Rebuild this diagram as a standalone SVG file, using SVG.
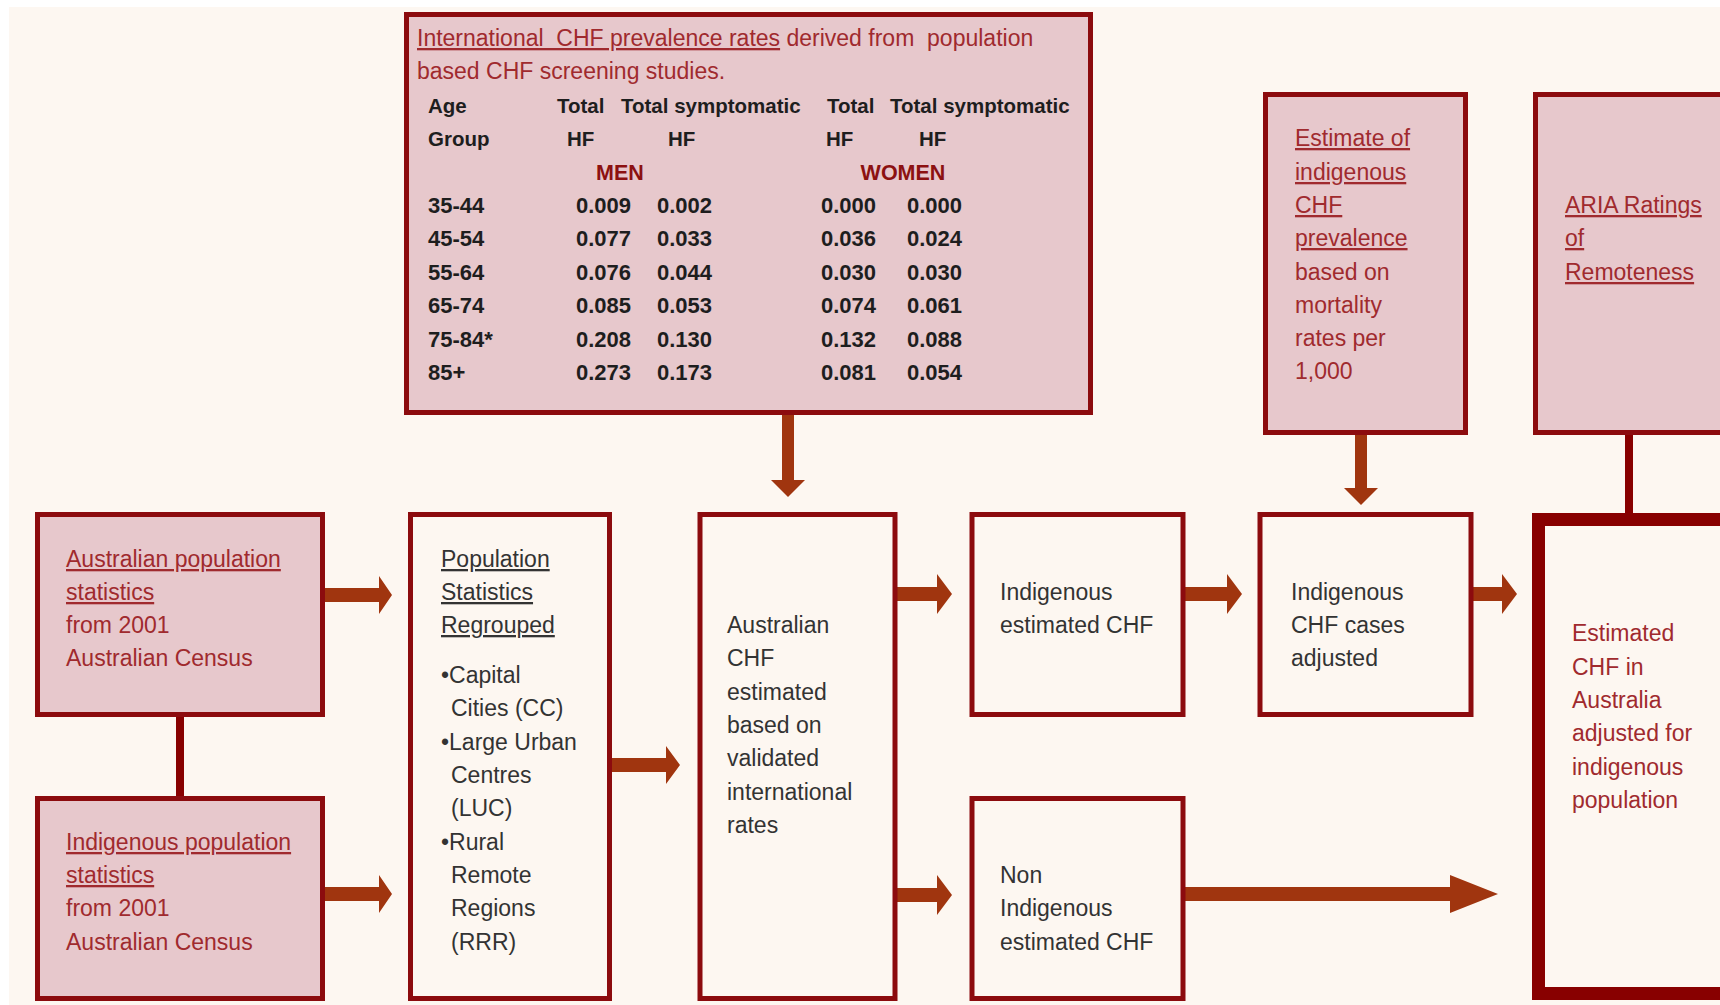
<svg xmlns="http://www.w3.org/2000/svg" width="1720" height="1005" viewBox="0 0 1720 1005">
<style>
.bg{fill:#FDF7F1}
.pink{fill:#E7C8CC;stroke:#8C0B0E;stroke-width:5}
.plain{fill:#FDF7F1;stroke:#8C0B0E;stroke-width:5}
.thick{fill:#FDF7F1;stroke:#880000;stroke-width:13}
.arrow{fill:#A0350F}
.bar{fill:#880000}
text{font-family:"Liberation Sans",Arial,sans-serif;font-size:23px}
.r{fill:#A02A2E}
.k{fill:#333333}
.u{text-decoration:underline}
.t{font-size:20.5px;font-weight:bold;fill:#1E1E1E}
.n{font-size:22px}
.sex{font-size:21.5px;font-weight:bold;fill:#8C1111}
</style>
<rect x="0" y="0" width="1720" height="1005" fill="#FFFFFF"/>
<rect class="bg" x="9" y="7" width="1711" height="998"/>

<g id="connectors">
  <rect class="bar" x="176" y="716" width="8" height="82"/>
  <rect class="bar" x="1625" y="433" width="8" height="82"/>
  <polygon class="arrow" points="782,414 794,414 794,480 805,480 788,497 771,480 782,480"/>
  <polygon class="arrow" points="1355,433 1367,433 1367,488 1378,488 1361,505 1344,488 1355,488"/>
  <polygon class="arrow" points="325,588 379,588 379,576 392,595 379,614 379,602 325,602"/>
  <polygon class="arrow" points="325,887 379,887 379,875 392,894 379,913 379,901 325,901"/>
  <polygon class="arrow" points="612,758 666,758 666,746 680,765 666,784 666,772 612,772"/>
  <polygon class="arrow" points="897,587 937,587 937,574 952,594 937,614 937,601 897,601"/>
  <polygon class="arrow" points="897,888 937,888 937,875 952,895 937,915 937,902 897,902"/>
  <polygon class="arrow" points="1185,587 1227,587 1227,574 1242,594 1227,614 1227,601 1185,601"/>
  <polygon class="arrow" points="1473,587 1502,587 1502,574 1517,594 1502,614 1502,601 1473,601"/>
  <polygon class="arrow" points="1185,887 1450,887 1450,875 1498,894 1450,913 1450,901 1185,901"/>
</g>

<g id="node-international">
  <rect class="pink" x="406.5" y="14.5" width="684" height="398"/>
  <text class="r" x="417" y="46"><tspan class="u">International&#160; CHF prevalence rates</tspan> derived from&#160; population</text>
  <text class="r" x="417" y="79">based CHF screening studies.</text>
  <text class="t" x="428" y="113">Age</text>
  <text class="t" x="428" y="146">Group</text>
  <text class="t" x="557" y="113">Total</text>
  <text class="t" x="621" y="113">Total symptomatic</text>
  <text class="t" x="827" y="113">Total</text>
  <text class="t" x="890" y="113">Total symptomatic</text>
  <text class="t" x="567" y="146">HF</text>
  <text class="t" x="668" y="146">HF</text>
  <text class="t" x="826" y="146">HF</text>
  <text class="t" x="919" y="146">HF</text>
  <text class="sex" x="620" y="180" text-anchor="middle">MEN</text>
  <text class="sex" x="903" y="180" text-anchor="middle">WOMEN</text>
  <text class="t n" x="428" y="213">35-44</text><text class="t n" x="576" y="213">0.009</text><text class="t n" x="657" y="213">0.002</text><text class="t n" x="821" y="213">0.000</text><text class="t n" x="907" y="213">0.000</text>
  <text class="t n" x="428" y="246">45-54</text><text class="t n" x="576" y="246">0.077</text><text class="t n" x="657" y="246">0.033</text><text class="t n" x="821" y="246">0.036</text><text class="t n" x="907" y="246">0.024</text>
  <text class="t n" x="428" y="280">55-64</text><text class="t n" x="576" y="280">0.076</text><text class="t n" x="657" y="280">0.044</text><text class="t n" x="821" y="280">0.030</text><text class="t n" x="907" y="280">0.030</text>
  <text class="t n" x="428" y="313">65-74</text><text class="t n" x="576" y="313">0.085</text><text class="t n" x="657" y="313">0.053</text><text class="t n" x="821" y="313">0.074</text><text class="t n" x="907" y="313">0.061</text>
  <text class="t n" x="428" y="347">75-84*</text><text class="t n" x="576" y="347">0.208</text><text class="t n" x="657" y="347">0.130</text><text class="t n" x="821" y="347">0.132</text><text class="t n" x="907" y="347">0.088</text>
  <text class="t n" x="428" y="380">85+</text><text class="t n" x="576" y="380">0.273</text><text class="t n" x="657" y="380">0.173</text><text class="t n" x="821" y="380">0.081</text><text class="t n" x="907" y="380">0.054</text>
</g>

<g id="node-estimate-indigenous">
  <rect class="pink" x="1265.5" y="94.5" width="200" height="338"/>
  <text class="r u" x="1295" y="146">Estimate of</text>
  <text class="r u" x="1295" y="180">indigenous</text>
  <text class="r u" x="1295" y="213">CHF</text>
  <text class="r u" x="1295" y="246">prevalence</text>
  <text class="r" x="1295" y="280">based on</text>
  <text class="r" x="1295" y="313">mortality</text>
  <text class="r" x="1295" y="346">rates per</text>
  <text class="r" x="1295" y="379">1,000</text>
</g>

<g id="node-aria">
  <rect class="pink" x="1535.5" y="94.5" width="200" height="338"/>
  <text class="r u" x="1565" y="213">ARIA Ratings</text>
  <text class="r u" x="1565" y="246">of</text>
  <text class="r u" x="1565" y="280">Remoteness</text>
</g>

<g id="node-australian-pop">
  <rect class="pink" x="37.5" y="514.5" width="285" height="200"/>
  <text class="r u" x="66" y="567">Australian population</text>
  <text class="r u" x="66" y="600">statistics</text>
  <text class="r" x="66" y="633">from 2001</text>
  <text class="r" x="66" y="666">Australian Census</text>
</g>

<g id="node-indigenous-pop">
  <rect class="pink" x="37.5" y="798.5" width="285" height="200"/>
  <text class="r u" x="66" y="850">Indigenous population</text>
  <text class="r u" x="66" y="883">statistics</text>
  <text class="r" x="66" y="916">from 2001</text>
  <text class="r" x="66" y="950">Australian Census</text>
</g>

<g id="node-regrouped">
  <rect class="plain" x="410.5" y="514.5" width="199" height="484"/>
  <text class="k u" x="441" y="567">Population</text>
  <text class="k u" x="441" y="600">Statistics</text>
  <text class="k u" x="441" y="633">Regrouped</text>
  <text class="k" x="441" y="683">•Capital</text>
  <text class="k" x="451" y="716">Cities (CC)</text>
  <text class="k" x="441" y="750">•Large Urban</text>
  <text class="k" x="451" y="783">Centres</text>
  <text class="k" x="451" y="816">(LUC)</text>
  <text class="k" x="441" y="850">•Rural</text>
  <text class="k" x="451" y="883">Remote</text>
  <text class="k" x="451" y="916">Regions</text>
  <text class="k" x="451" y="950">(RRR)</text>
</g>

<g id="node-australian-chf">
  <rect class="plain" x="700" y="514.5" width="195" height="484"/>
  <text class="k" x="727" y="633">Australian</text>
  <text class="k" x="727" y="666">CHF</text>
  <text class="k" x="727" y="700">estimated</text>
  <text class="k" x="727" y="733">based on</text>
  <text class="k" x="727" y="766">validated</text>
  <text class="k" x="727" y="800">international</text>
  <text class="k" x="727" y="833">rates</text>
</g>

<g id="node-indigenous-est">
  <rect class="plain" x="972" y="514.5" width="211" height="200"/>
  <text class="k" x="1000" y="600">Indigenous</text>
  <text class="k" x="1000" y="633">estimated CHF</text>
</g>

<g id="node-non-indigenous">
  <rect class="plain" x="972" y="798.5" width="211" height="200"/>
  <text class="k" x="1000" y="883">Non</text>
  <text class="k" x="1000" y="916">Indigenous</text>
  <text class="k" x="1000" y="950">estimated CHF</text>
</g>

<g id="node-indigenous-adjusted">
  <rect class="plain" x="1260" y="514.5" width="211" height="200"/>
  <text class="k" x="1291" y="600">Indigenous</text>
  <text class="k" x="1291" y="633">CHF cases</text>
  <text class="k" x="1291" y="666">adjusted</text>
</g>

<g id="node-estimated-australia">
  <rect class="thick" x="1538.5" y="519.5" width="200" height="474"/>
  <text class="r" x="1572" y="641">Estimated</text>
  <text class="r" x="1572" y="675">CHF in</text>
  <text class="r" x="1572" y="708">Australia</text>
  <text class="r" x="1572" y="741">adjusted for</text>
  <text class="r" x="1572" y="775">indigenous</text>
  <text class="r" x="1572" y="808">population</text>
</g>
</svg>
